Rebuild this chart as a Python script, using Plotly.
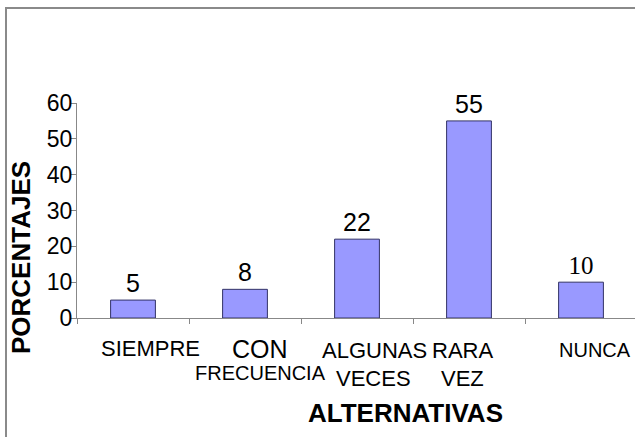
import plotly.graph_objects as go

categories = ["SIEMPRE", "CON FRECUENCIA", "ALGUNAS VECES", "RARA VEZ", "NUNCA"]
values = [5, 8, 22, 55, 10]
y_ticks = [0, 10, 20, 30, 40, 50, 60]

# category tick labels (drawn as annotations, per-line sizes as in original)
tick_label_lines = [
    ("SIEMPRE", "SIEMPRE", 22, 17, -30),
    ("CON FRECUENCIA", "CON", 25, 15, -31),
    ("CON FRECUENCIA", "FRECUENCIA", 20, 15, -55),
    ("ALGUNAS VECES", "ALGUNAS", 22, 17, -32),
    ("ALGUNAS VECES", "VECES", 22, 16, -60),
    ("RARA VEZ", "RARA", 22, -7, -32),
    ("RARA VEZ", "VEZ", 22, -7, -60),
    ("NUNCA", "NUNCA", 20, 14, -32),
]

fonts = ["Liberation Sans"] * 4 + ["Liberation Serif"]

PW = 558  # plot width in px

fig = go.Figure()
fig.add_trace(go.Bar(
    x=categories, y=values,
    width=0.40,
    marker=dict(color="#9999FF", line=dict(color="#333366", width=1)),
    text=[str(v) for v in values],
    textposition="outside",
    textfont=dict(size=25, color="black", family=fonts),
    cliponaxis=False,
))

annotations = []
for cat, txt, size, xs, ys in tick_label_lines:
    annotations.append(dict(
        x=cat, y=0, xref="x", yref="paper", text=txt, showarrow=False,
        xanchor="center", yanchor="middle", xshift=xs, yshift=ys,
        font=dict(family="Liberation Sans", size=size, color="black"),
    ))
annotations.append(dict(
    x=(405 - 77) / PW, y=0, xref="paper", yref="paper", text="<b>ALTERNATIVAS</b>",
    showarrow=False, xanchor="center", yanchor="middle", yshift=-95,
    font=dict(family="Liberation Sans", size=26, color="black"),
))
annotations.append(dict(
    x=0, y=(318 - 258) / 215, xref="paper", yref="paper", text="<b>PORCENTAJES</b>",
    showarrow=False, textangle=-90, xanchor="center", yanchor="middle", xshift=-56,
    font=dict(family="Liberation Sans", size=26, color="black"),
))

fig.update_layout(
    width=635, height=437,
    margin=dict(l=77, r=0, t=103, b=119),
    paper_bgcolor="white", plot_bgcolor="white",
    showlegend=False,
    annotations=annotations,
    shapes=[dict(type="rect", xref="paper", yref="paper",
                 x0=(6 - 77) / PW, x1=(645 - 77) / PW,
                 y0=(318 - 450) / 215, y1=(318 - 8) / 215,
                 line=dict(color="#8a8a8a", width=2), layer="below")],
    xaxis=dict(showticklabels=False, showline=True, linecolor="#888888", linewidth=1,
               range=[-0.5, -0.5 + PW / 112],
               ticks="outside", ticklen=5, tickcolor="#888888", tickson="boundaries",
               showgrid=False, zeroline=False),
    yaxis=dict(range=[0, 60], tickvals=y_ticks, showline=True, linecolor="#888888",
               linewidth=1, ticks="outside", ticklen=5, tickcolor="#888888",
               ticklabelstandoff=-6,
               showgrid=False, zeroline=False,
               tickfont=dict(family="Liberation Sans", size=23, color="black")),
)

fig.write_html("out.html")
